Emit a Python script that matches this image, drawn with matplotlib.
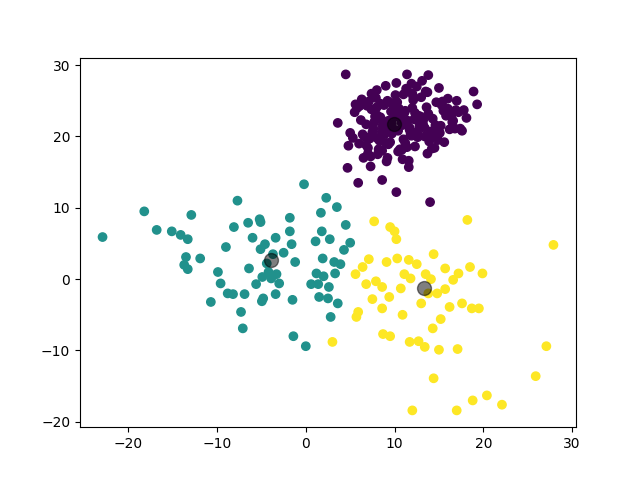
import matplotlib
matplotlib.use("Agg")
import matplotlib.pyplot as plt
import numpy as np

# cluster 0 (purple)
c0_x = [4.5, 11.4, 13.8, 14.0, 10.2, 4.7, 15.1, 19.3, 18.9, 3.6, 5.9, 8.6, 7.3, 11.6,
        5.0, 5.5, 6.0, 6.3, 6.8, 7.0, 7.4, 7.8, 8.1, 8.4, 8.8, 9.0, 9.3, 9.6, 9.9, 10.1,
        10.4, 10.7, 11.0, 11.3, 11.7, 12.0, 12.3, 12.7, 13.0, 13.4, 13.8, 14.2, 14.7, 15.2,
        15.6, 16.0, 16.5, 17.0, 17.6, 18.1, 6.2, 6.9, 7.5, 8.0, 8.6, 9.2, 9.7, 10.3, 10.9,
        11.5, 12.1, 12.6, 13.2, 13.7, 14.3, 14.9, 15.5, 16.2, 5.3, 6.5, 7.7, 8.9, 10.0,
        11.2, 12.4, 13.6, 14.8, 16.0, 17.2, 7.1, 8.3, 9.5, 10.6, 11.8, 13.0, 14.1, 15.3,
        8.0, 9.1, 10.2, 11.4, 12.5, 13.7, 6.8, 8.7, 10.8, 12.9, 14.5, 9.4, 11.1, 12.2,
        7.9, 9.8, 11.9, 13.4, 15.8, 16.8, 17.8, 5.8, 6.6, 8.2, 10.5, 12.8, 14.6, 9.0,
        10.0, 11.0, 12.0, 8.5, 13.1, 7.3, 15.0, 16.4, 4.8, 5.6, 9.6, 11.6, 13.9, 10.7,
        7.6, 8.4, 9.3, 10.4, 11.3, 12.3, 8.1, 9.0, 9.9, 10.9, 11.7, 12.7, 7.4, 8.8, 9.5,
        10.3, 11.2, 12.1, 13.3, 6.4, 7.2, 8.0, 9.2, 10.6, 11.5, 12.6, 14.0, 15.4, 16.6,
        9.7, 10.8, 8.6, 11.9, 7.0, 13.5, 6.1, 14.4, 17.4, 16.9]
c0_y = [28.7, 28.7, 28.6, 10.8, 12.2, 15.6, 20.5, 24.5, 26.3, 21.9, 13.5, 13.9, 15.8, 16.6,
        20.5, 23.4, 19.0, 25.2, 21.7, 18.4, 26.0, 22.8, 17.5, 24.6, 20.2, 27.1, 18.9, 23.5,
        21.0, 25.8, 17.9, 22.4, 19.6, 26.7, 21.2, 24.0, 18.6, 22.9, 25.5, 20.0, 23.2, 18.3,
        24.8, 21.5, 19.2, 23.9, 22.0, 25.0, 20.8, 22.6, 22.3, 24.3, 20.6, 23.0, 18.0, 25.0,
        20.4, 23.8, 16.8, 22.2, 25.6, 19.9, 21.8, 26.2, 22.5, 19.5, 23.6, 21.0, 19.8, 17.0,
        22.0, 21.6, 24.6, 19.1, 22.7, 24.1, 21.3, 25.3, 23.4, 24.9, 19.4, 21.5, 23.1, 20.3,
        22.1, 20.7, 24.4, 26.5, 16.5, 27.5, 18.5, 27.0, 17.6, 18.8, 22.0, 21.9, 22.8, 18.4,
        20.9, 23.3, 22.4, 25.4, 22.6, 20.1, 21.2, 22.9, 21.1, 23.7, 24.0, 20.0, 18.2, 23.9,
        21.4, 21.6, 19.0, 24.2, 25.9, 26.0, 20.5, 27.8, 17.2, 26.8, 23.0, 18.7, 24.5, 24.7,
        15.7, 19.3, 23.5, 21.1, 22.7, 22.2, 20.8, 21.7, 23.3, 19.7, 20.6, 23.2, 21.6, 20.9,
        22.1, 23.8, 24.4, 19.2, 24.8, 23.6, 25.1, 22.5, 20.3, 19.7, 24.1, 17.0, 18.2, 26.3,
        20.7, 19.9, 24.9, 22.2, 21.8, 18.1, 21.4, 27.4, 17.6, 26.3, 24.3, 20.4, 21.1, 23.7]

# cluster 1 (teal)
c1_x = [-22.9, -18.2, -16.8, -15.1, -14.1, -12.9, -13.3, -13.5, -13.7, -13.3, -11.9, -10.7,
        -9.9, -9.6, -9.0, -8.8, -8.1, -8.2, -7.7, -7.3, -7.1, -6.9, -6.5, -6.4, -6.0, -5.6,
        -5.2, -5.1, -5.1, -4.8, -4.95, -4.6, -4.4, -3.9, -3.4, -3.3, -3.4, -3.0, -2.5, -1.8,
        -1.8, -1.6, -1.5, -1.4, -1.2, -0.2, 0.0, 0.6, 1.1, 1.2, 1.4, 1.5, 1.7, 1.8, 1.9, 2.0,
        2.3, 2.5, 2.6, 2.7, 2.8, 3.2, 3.3, 3.5, 3.6, 3.9, 4.3, 4.5, 5.0, -4.2, -3.7, -4.9]
c1_y = [5.9, 9.5, 6.9, 6.7, 6.2, 9.0, 5.6, 3.1, 2.0, 1.4, 2.9, -3.2, 1.0, -0.6, 4.5, -2.0,
        7.3, -2.1, 11.0, -4.6, -6.9, -2.1, 7.9, 1.5, 5.8, -0.7, 8.4, 8.0, 4.2, -2.7, -3.1, 4.9,
        2.2, 0.1, 5.8, 0.7, -2.1, -0.6, 3.7, 8.6, 6.7, 4.9, -2.9, -8.0, 2.4, 13.3, -9.4, -0.7,
        5.3, 0.8, -0.7, -2.5, 9.3, 6.7, 2.9, 0.4, 11.4, -2.7, -1.1, 5.6, -5.3, 2.4, 0.8, 10.1,
        -3.4, 2.1, 4.1, 7.6, 5.1, 1.0, 3.5, 0.3]

# cluster 2 (yellow)
c2_x = [3.0, 5.6, 5.9, 5.7, 6.4, 6.8, 7.1, 7.5, 7.7, 7.9, 8.6, 8.6, 8.7, 9.1, 9.5, 9.5, 9.4,
        10.0, 10.2, 10.3, 10.7, 10.9, 11.1, 11.6, 11.7, 11.8, 12.0, 12.5, 13.0, 13.4, 13.5,
        14.1, 14.3, 14.4, 14.4, 14.8, 15.0, 15.2, 15.7, 16.2, 16.6, 17.0, 17.1, 17.2, 17.6,
        18.2, 18.5, 18.7, 18.8, 19.5, 19.9, 20.4, 22.1, 25.9, 27.1, 27.9, 13.8, 15.7, 12.7]
c2_y = [-8.8, 0.7, -4.6, -5.3, 1.7, -0.7, 2.8, -2.8, 8.1, -0.3, -4.1, -1.1, -7.7, 2.4, 7.3,
        -8.0, -2.5, 6.7, 5.6, 2.9, -1.3, -5.0, 0.7, 2.7, -8.8, 0.1, -18.4, 2.1, -3.4, -9.5, 0.7,
        0.0, -6.9, -13.9, 3.5, -2.0, -9.9, -5.6, 1.5, -3.9, -0.1, -18.4, -9.8, 0.8, -3.4, 8.3,
        1.7, -4.1, -17.0, -4.1, 0.8, -16.3, -17.6, -13.6, -9.4, 4.8, -2.0, -1.4, -8.7]

centers_x = [9.9, -3.9, 13.3]
centers_y = [21.8, 2.7, -1.3]

x = np.array(c0_x + c1_x + c2_x)
y = np.array(c0_y + c1_y + c2_y)
labels = np.array([0] * len(c0_x) + [1] * len(c1_x) + [2] * len(c2_x))

fig = plt.figure(figsize=(6.4, 4.8), dpi=100)
plt.scatter(x, y, c=labels, s=36, cmap="viridis")
plt.scatter(centers_x, centers_y, c="black", s=100, alpha=0.5)
plt.xticks([-20, -10, 0, 10, 20, 30])
plt.yticks([-20, -10, 0, 10, 20, 30])
plt.savefig("out.png")
